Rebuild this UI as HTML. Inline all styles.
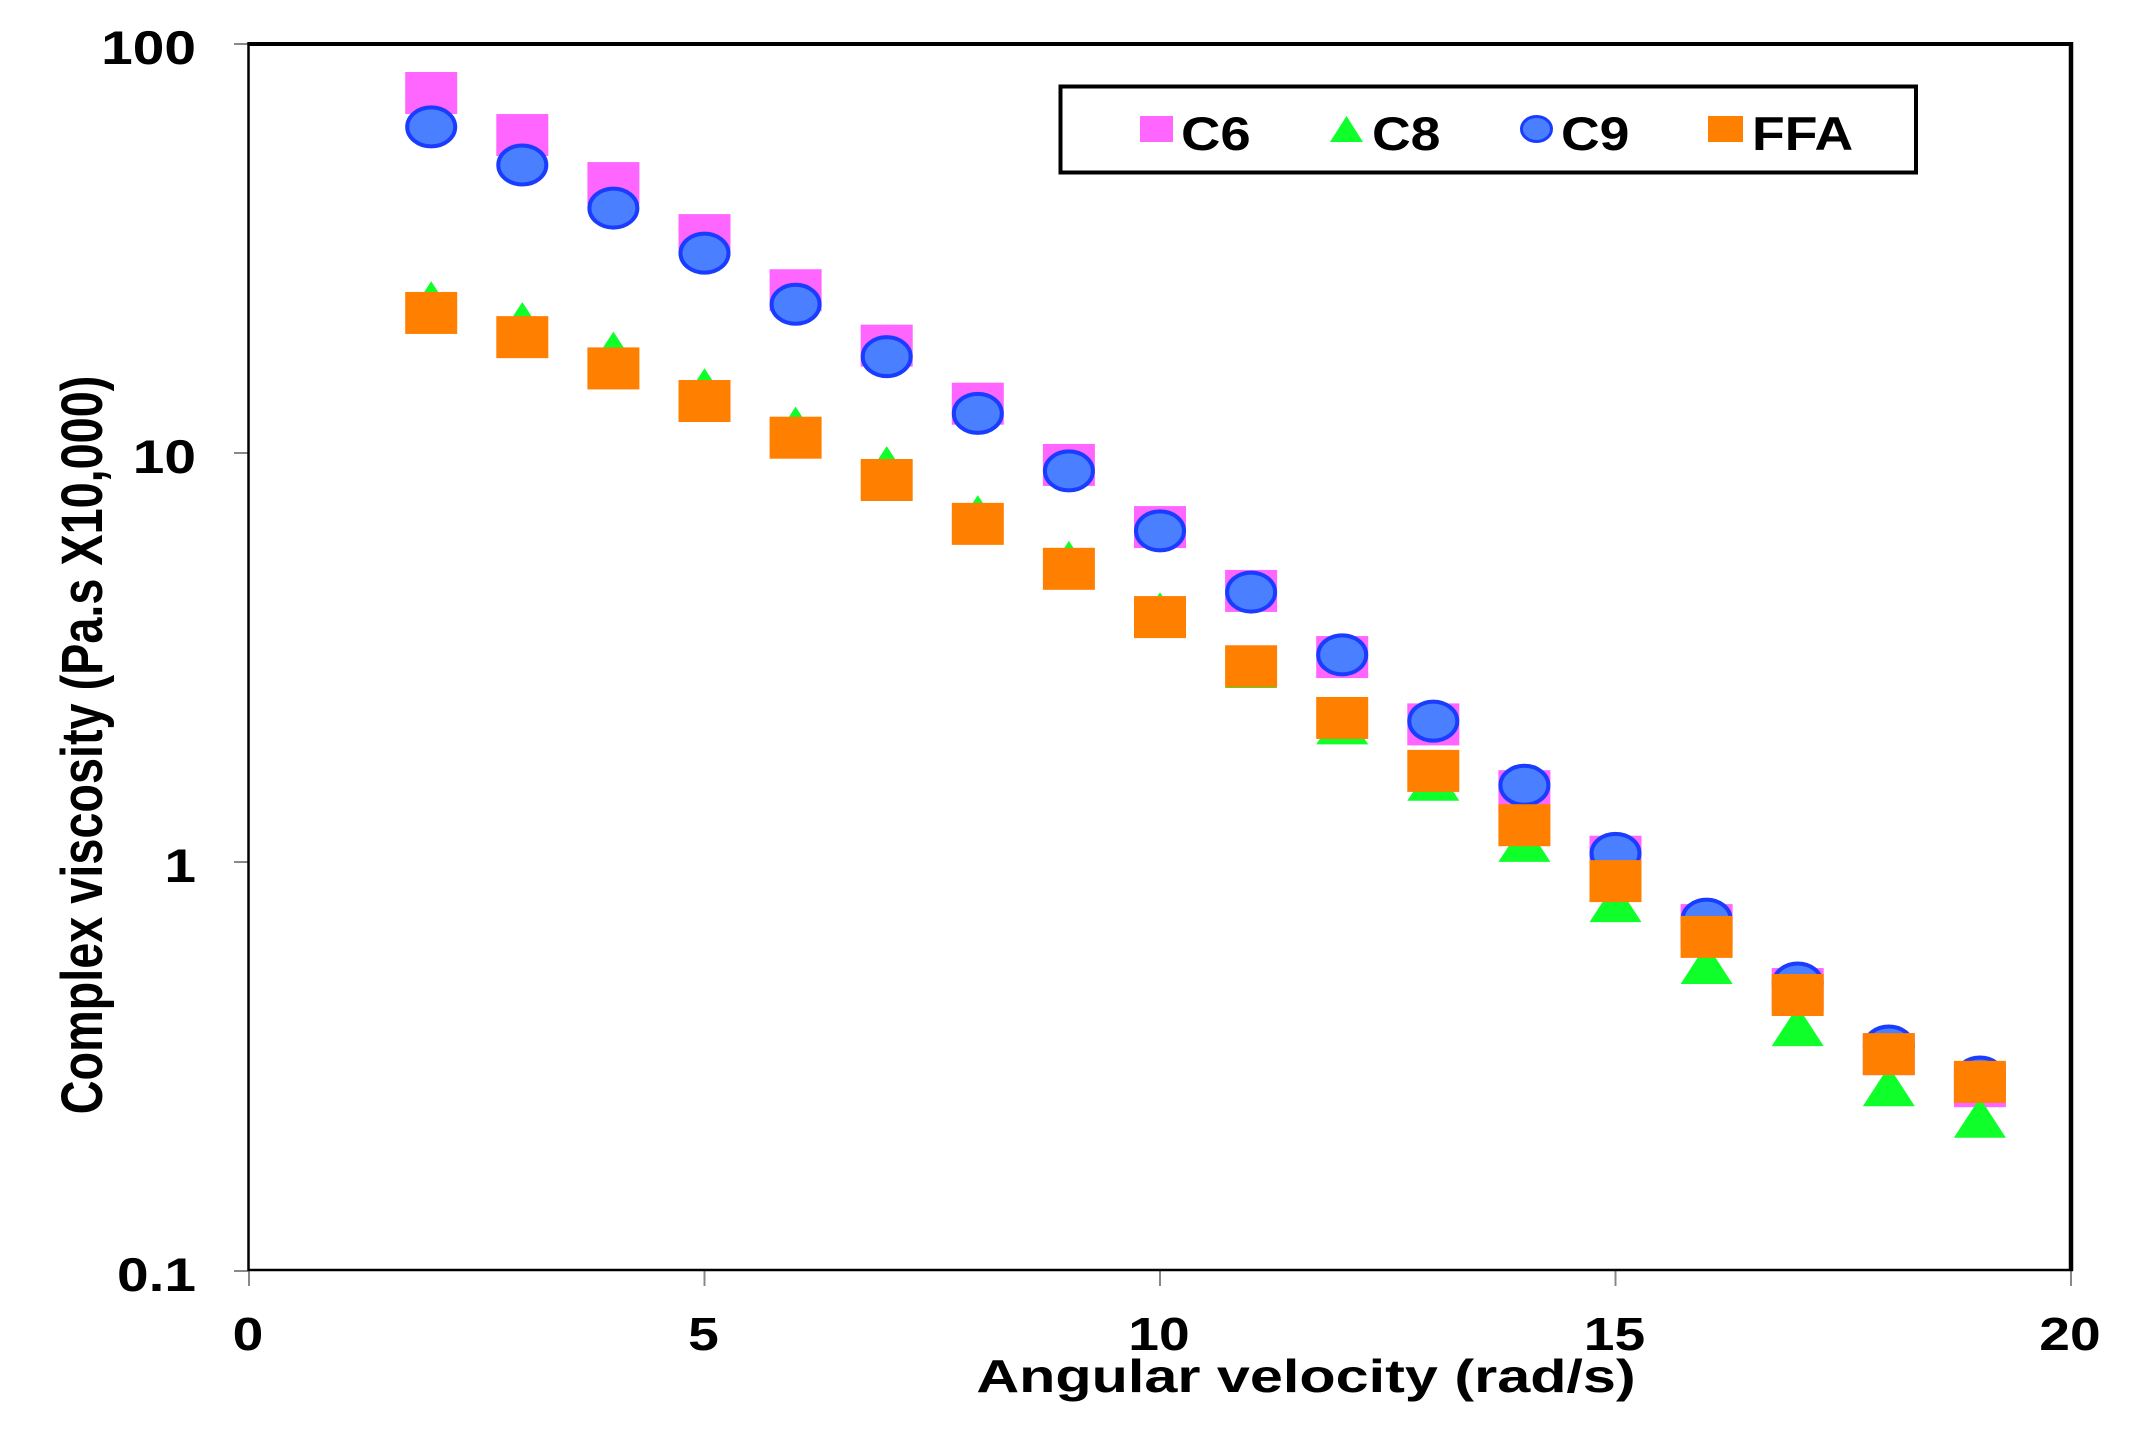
<!DOCTYPE html>
<html lang="en">
<head>
<meta charset="utf-8">
<title>Complex viscosity vs angular velocity</title>
<style>
  html, body { margin: 0; padding: 0; background: #fff; }
  svg { display: block; }
  text { font-family: "Liberation Sans", Arial, sans-serif; font-weight: bold; fill: #000; }
</style>
</head>
<body>
<svg id="chart" xmlns="http://www.w3.org/2000/svg" width="2144" height="1435" viewBox="0 0 2144 1435">
  <rect x="0" y="0" width="2144" height="1435" fill="#ffffff"/>
  <g id="ticks"></g>
  <g id="labels"></g>
  <g id="marks"></g>
  <g>
    <line x1="248.5" y1="42" x2="248.5" y2="1271" stroke="#000" stroke-width="2.5"/>
    <line x1="248" y1="1270" x2="2073" y2="1270" stroke="#000" stroke-width="2.5"/>
    <line x1="248" y1="44" x2="2073" y2="44" stroke="#000" stroke-width="4"/>
    <line x1="2071" y1="42" x2="2071" y2="1271" stroke="#000" stroke-width="4.5"/>
  </g>
  <text font-size="46.8" text-anchor="middle" transform="translate(102,745) rotate(-90) scale(1,1.24)">Complex viscosity (Pa.s X10,000)</text>
  <text font-size="46" text-anchor="middle" transform="translate(1306,1392) scale(1.29,1)">Angular velocity (rad/s)</text>
  <g>
    <rect x="1060.5" y="86.5" width="855.5" height="86" fill="#fff" stroke="#000" stroke-width="4"/>
    <g>
      <rect x="1140" y="116" width="33" height="26" fill="#ff66ff"/>
      <text font-size="47" transform="translate(1181,150) scale(1.16,1)">C6</text>
    </g>
    <g>
      <polygon points="1346.5,116 1363,142 1330,142" fill="#0fff2a"/>
      <text font-size="47" transform="translate(1372,150) scale(1.14,1)">C8</text>
    </g>
    <g>
      <ellipse cx="1536.5" cy="129" rx="15" ry="12.5" fill="#4a7fff" stroke="#1a3cff" stroke-width="3"/>
      <text font-size="47" transform="translate(1561,150) scale(1.14,1)">C9</text>
    </g>
    <g>
      <rect x="1708" y="116" width="35" height="26" fill="#ff7f00"/>
      <text font-size="47" transform="translate(1752,150) scale(1.14,1)">FFA</text>
    </g>
  </g>
</svg>
<script>
const angularVelocity = [2, 3, 4, 5, 6, 7, 8, 9, 10, 11, 12, 13, 14, 15, 16, 17, 18, 19];
const c6Values = [75.9, 59.9, 45.7, 34.1, 25.0, 18.3, 13.2, 9.35, 6.59, 4.60, 3.17, 2.17, 1.49, 1.03, 0.701, 0.489, 0.339, 0.283];
const c8Values = [23.5, 20.9, 17.7, 14.4, 11.6, 9.29, 7.05, 5.45, 4.08, 2.98, 2.17, 1.58, 1.12, 0.798, 0.563, 0.397, 0.283, 0.237];
const c9Values = [62.7, 50.6, 39.7, 30.8, 23.1, 17.2, 12.5, 9.04, 6.45, 4.57, 3.21, 2.21, 1.54, 1.05, 0.725, 0.506, 0.355, 0.298];
const ffaValues = [22.0, 19.2, 16.1, 13.4, 10.9, 8.59, 6.71, 5.21, 3.97, 3.01, 2.25, 1.67, 1.23, 0.898, 0.656, 0.473, 0.339, 0.290];
const xTickValues = [0, 5, 10, 15, 20];
const yTickValues = [100, 10, 1, 0.1];
const xTickLabels = ['0', '5', '10', '15', '20'];
const yTickLabels = ['100', '10', '1', '0.1'];

const NS = 'http://www.w3.org/2000/svg';
const plot = { left: 249, right: 2071, top: 44, bottom: 1271, xMin: 0, xMax: 20, logMin: -1, logMax: 2 };
const MARK_W = 52;
const MARK_H = 42;

function xScale(v) {
  return plot.left + (v - plot.xMin) / (plot.xMax - plot.xMin) * (plot.right - plot.left);
}
function yScale(v) {
  return plot.bottom - (Math.log10(v) - plot.logMin) / (plot.logMax - plot.logMin) * (plot.bottom - plot.top);
}
function svgEl(tag, attrs, parent) {
  const el = document.createElementNS(NS, tag);
  for (const k in attrs) el.setAttribute(k, attrs[k]);
  parent.appendChild(el);
  return el;
}

const ticksG = document.getElementById('ticks');
const labelsG = document.getElementById('labels');
const marksG = document.getElementById('marks');

xTickValues.forEach(function (v, i) {
  const x = xScale(v);
  const tick = svgEl('line', { x1: x, y1: plot.bottom, x2: x, y2: plot.bottom + 15, stroke: '#888', 'stroke-width': 2 }, ticksG);
  
  
  const label = svgEl('text', { 'font-size': 46, 'text-anchor': 'middle', transform: 'translate(' + (x - 1) + ',1350) scale(1.2,1)' }, labelsG);
  label.textContent = xTickLabels[i];
  
  
});

yTickValues.forEach(function (v, i) {
  const y = yScale(v);
  const tick = svgEl('line', { x1: plot.left - 15, y1: y, x2: plot.left, y2: y, stroke: '#888', 'stroke-width': 2 }, ticksG);
  
  
  const label = svgEl('text', { 'font-size': 47, 'text-anchor': 'end', transform: 'translate(196,' + (y + 20) + ') scale(1.21,1)' }, labelsG);
  label.textContent = yTickLabels[i];
  
  
});

function drawSquares(values, color, seriesName) {
  const g = svgEl('g', {}, marksG);
  
  
  values.forEach(function (v, i) {
    const cx = xScale(angularVelocity[i]);
    const cy = yScale(v);
    const m = svgEl('rect', { x: cx - MARK_W / 2, y: cy - MARK_H / 2, width: MARK_W, height: MARK_H, fill: color }, g);
    
    
  });
}
function drawTriangles(values, color, seriesName) {
  const g = svgEl('g', {}, marksG);
  
  
  values.forEach(function (v, i) {
    const cx = xScale(angularVelocity[i]);
    const cy = yScale(v);
    const pts = cx + ',' + (cy - 20) + ' ' + (cx + MARK_W / 2) + ',' + (cy + 20) + ' ' + (cx - MARK_W / 2) + ',' + (cy + 20);
    const m = svgEl('polygon', { points: pts, fill: color }, g);
    
    
  });
}
function drawEllipses(values, color, strokeColor, seriesName) {
  const g = svgEl('g', {}, marksG);
  
  
  values.forEach(function (v, i) {
    const cx = xScale(angularVelocity[i]);
    const cy = yScale(v);
    const m = svgEl('ellipse', { cx: cx, cy: cy, rx: 24, ry: 19.5, fill: color, stroke: strokeColor, 'stroke-width': 4 }, g);
    
    
  });
}

drawSquares(c6Values, '#ff66ff', 'c6');
drawTriangles(c8Values, '#0fff2a', 'c8');
drawEllipses(c9Values, '#4a7fff', '#1a3cff', 'c9');
drawSquares(ffaValues, '#ff7f00', 'ffa');
</script>
</body>
</html>
